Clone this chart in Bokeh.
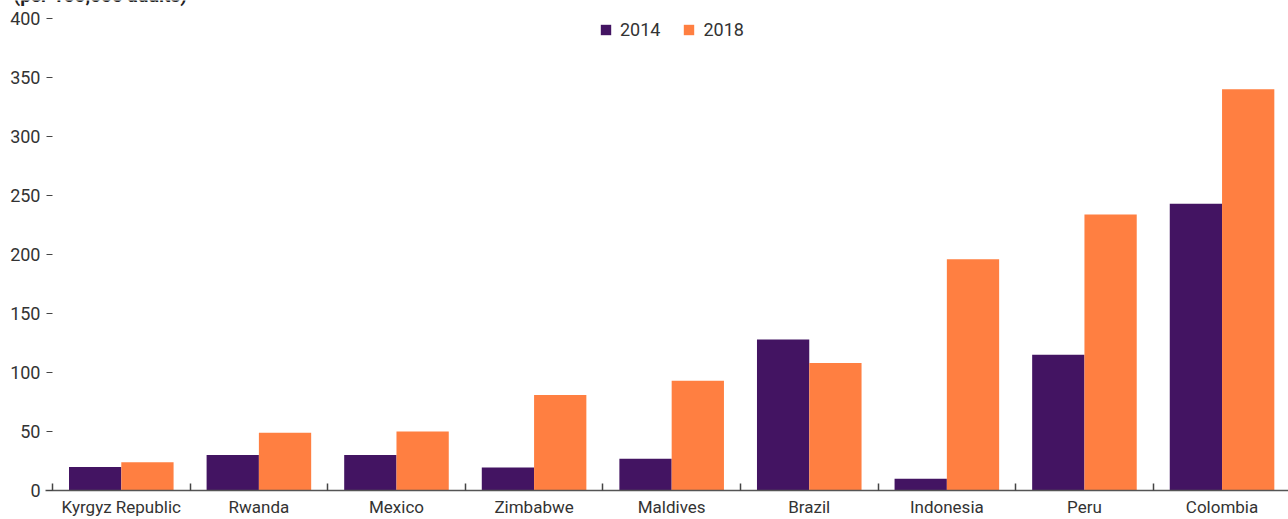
import numpy as np
from bokeh.plotting import figure
from bokeh.models import (ColumnDataSource, FixedTicker, Range1d, Legend,
                          LegendItem, Label)
from bokeh.transform import dodge
from bokeh.embed import file_html
from bokeh.resources import INLINE

countries = ["Kyrgyz Republic", "Rwanda", "Mexico", "Zimbabwe", "Maldives",
             "Brazil", "Indonesia", "Peru", "Colombia"]
values_2014 = [20, 30, 30, 19.5, 27, 128, 10, 115, 243]
values_2018 = [24, 49, 50, 81, 93, 108, 196, 234, 340]
y_ticks = [0, 50, 100, 150, 200, 250, 300, 350, 400]
title_text = "(per 100,000 adults)"

C14 = "#431462"
C18 = "#FF7F41"
FONT = "Roboto"

pos = np.arange(len(countries)) + 0.5
src = ColumnDataSource(dict(x=pos, v14=values_2014, v18=values_2018, c=countries))

p = figure(width=1288, height=519, output_backend="svg", toolbar_location=None,
           x_range=Range1d(-0.3779, 8.983), y_range=Range1d(-24.58, 415.25),
           min_border_left=0, min_border_right=0, min_border_top=0,
           min_border_bottom=0)
p.outline_line_color = None
p.xgrid.grid_line_color = None
p.ygrid.grid_line_color = None

r14 = p.vbar(x=dodge("x", -0.19), top="v14", bottom=0, width=0.38, source=src,
             fill_color=C14, line_color=None)
r18 = p.vbar(x=dodge("x", 0.19), top="v18", bottom=0, width=0.38, source=src,
             fill_color=C18, line_color=None)

xa = p.xaxis[0]
xa.ticker = FixedTicker(ticks=list(pos), minor_ticks=list(range(len(countries) + 1)))
xa.major_label_overrides = {float(x): c for x, c in zip(pos, countries)}
xa.fixed_location = 0
xa.bounds = (-0.0509, 9.5)
xa.major_tick_in = 0
xa.major_tick_out = 0
xa.minor_tick_in = 7
xa.minor_tick_out = 0
xa.minor_tick_line_color = "#444444"
xa.minor_tick_line_width = 1.5
xa.axis_line_color = "#555555"
xa.axis_line_width = 1.5
xa.major_label_text_font = FONT
xa.major_label_text_font_size = "17px"
xa.major_label_text_color = "#333333"
xa.major_label_standoff = 7

ya = p.yaxis[0]
ya.ticker = FixedTicker(ticks=y_ticks)
ya.fixed_location = -0.0436
ya.axis_line_color = None
ya.major_tick_in = 6
ya.major_tick_out = 0
ya.minor_tick_line_color = None
ya.major_tick_line_color = "#444444"
ya.major_tick_line_width = 1.2
ya.major_label_text_font = FONT
ya.major_label_text_font_size = "18px"
ya.major_label_text_color = "#333333"
ya.major_label_standoff = 6

legend = Legend(items=[LegendItem(label="2014", renderers=[r14]),
                       LegendItem(label="2018", renderers=[r18])],
                orientation="horizontal", location=(599, 479),
                glyph_width=13, glyph_height=13, label_standoff=8, spacing=22,
                padding=0, margin=0, border_line_color=None,
                background_fill_alpha=0, label_text_font=FONT,
                label_text_font_size="18px", label_text_color="#333333")
p.add_layout(legend, "center")

title = Label(x=13, y=524, x_units="screen", y_units="screen", text=title_text,
              text_font=FONT, text_font_style="bold", text_font_size="19px",
              text_color="#222222", text_baseline="alphabetic", level="overlay")
p.add_layout(title)

open("out.html", "w").write(file_html(p, INLINE))
